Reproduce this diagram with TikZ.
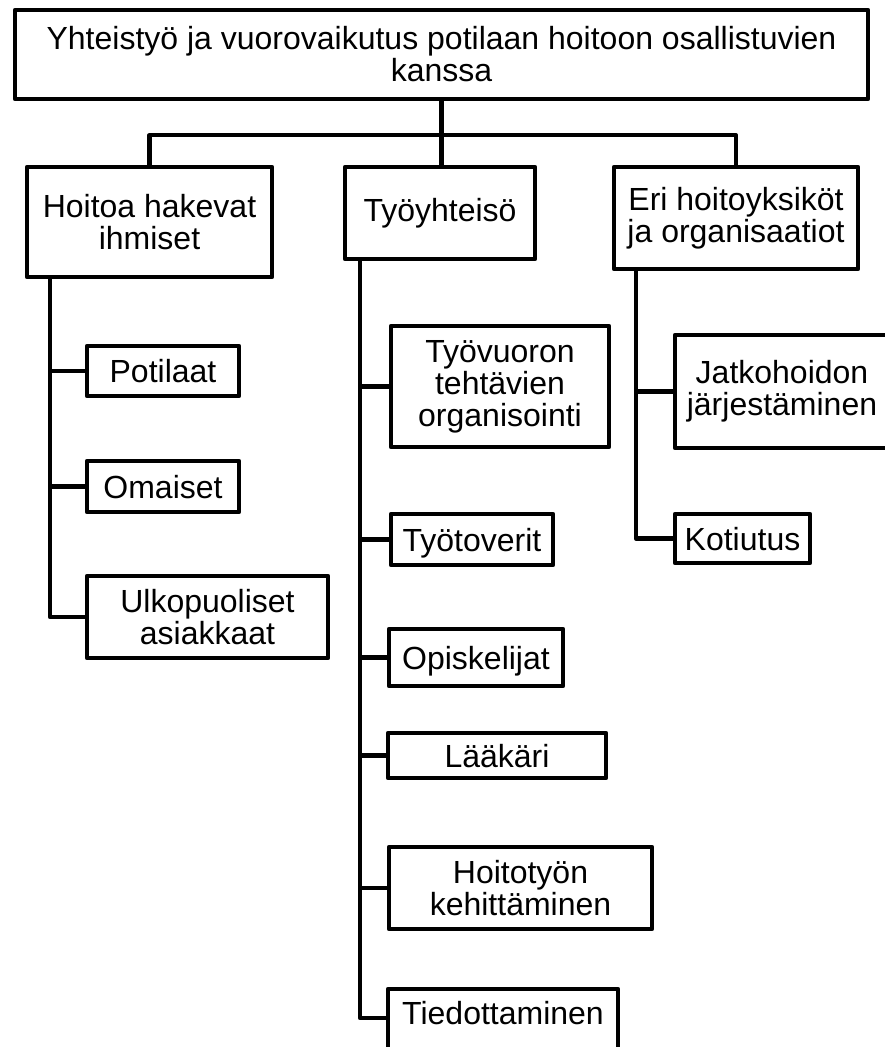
\documentclass[tikz,border=0pt]{standalone}
\usepackage{fontspec}
\setmainfont{Liberation Sans}
\tikzset{
  orgbox/.style={draw, line width=4.3pt, line join=round, inner sep=1pt,
    align=center, font=\fontsize{32pt}{32pt}\selectfont},
  oneline/.style={text height=23pt, text depth=0pt},
  link/.style={line width=4.3pt, line join=round}
}
% box given by the centre lines of its border: name, x1, y1, x2, y2, text
\newcommand\orgnode[7][]{%
  \node[orgbox,#1,minimum width={#5-#3},minimum height={#6-#4}]
    (#2) at ({(#3+#5)/2},{(#4+#6)/2}) {#7};}
\begin{document}
\begin{tikzpicture}[x=1pt,y=-1pt]
\useasboundingbox (0,0) rectangle (884,1047);

% top level
\orgnode{top}{15}{10}{868}{99}{Yhteistyö ja vuorovaikutus potilaan hoitoon osallistuvien\\kanssa}

% second level
\orgnode{hoit}{27}{167}{272}{277}{Hoitoa hakevat\\ihmiset}
\orgnode{tyoy}{345}{167}{535}{259}{Työyhteisö}
\orgnode{eri}{614}{167}{858}{269}{Eri hoitoyksiköt\\ja organisaatiot}

% left branch
\orgnode[oneline]{pot}{87}{346}{239}{396}{Potilaat}
\orgnode[oneline]{oma}{87}{461}{239}{512}{Omaiset}
\orgnode{ulko}{87}{576}{328}{658}{Ulkopuoliset\\asiakkaat}

% middle branch
\orgnode{vuoro}{391}{326}{609}{447}{Työvuoron\\tehtävien\\organisointi}
\orgnode[oneline]{toverit}{391}{514}{553}{565}{Työtoverit}
\orgnode[oneline]{opis}{389}{629}{563}{686}{Opiskelijat}
\orgnode[oneline]{laak}{388}{733}{606}{778}{Lääkäri}
\orgnode{kehit}{389}{847}{652}{929}{Hoitotyön\\kehittäminen}
\orgnode[text height=23pt,text depth=25pt]{tied}{388}{989}{618}{1061}{Tiedottaminen}

% right branch
\orgnode{jatko}{675}{335}{889}{448}{Jatkohoidon\\järjestäminen}
\orgnode[oneline]{koti}{675}{514}{810}{563}{Kotiutus}

% connectors from the top box
\coordinate (bar) at ([yshift=-34pt]top.south);
\draw[link] (top.south) -- (bar);
\draw[link] (hoit.north) |- (bar) -| (eri.north);
\draw[link] (bar) -- (bar |- tyoy.north);

% left spine
\coordinate (lsp) at ([xshift=25pt]hoit.south west);
\draw[link] (lsp) |- (ulko.west);
\draw[link] (lsp) |- (pot.west);
\draw[link] (lsp) |- (oma.west);

% middle spine
\coordinate (msp) at ([xshift=17pt]tyoy.south west);
\coordinate (tiedin) at ([yshift=7pt]tied.west);
\draw[link] (msp) |- (tiedin);
\draw[link] (msp) |- (vuoro.west);
\draw[link] (msp) |- (toverit.west);
\draw[link] (msp) |- (opis.west);
\draw[link] (msp) |- (laak.west);
\draw[link] (msp) |- (kehit.west);

% right spine
\coordinate (rsp) at ([xshift=24pt]eri.south west);
\draw[link] (rsp) |- (koti.west);
\draw[link] (rsp) |- (jatko.west);
\end{tikzpicture}
\end{document}
